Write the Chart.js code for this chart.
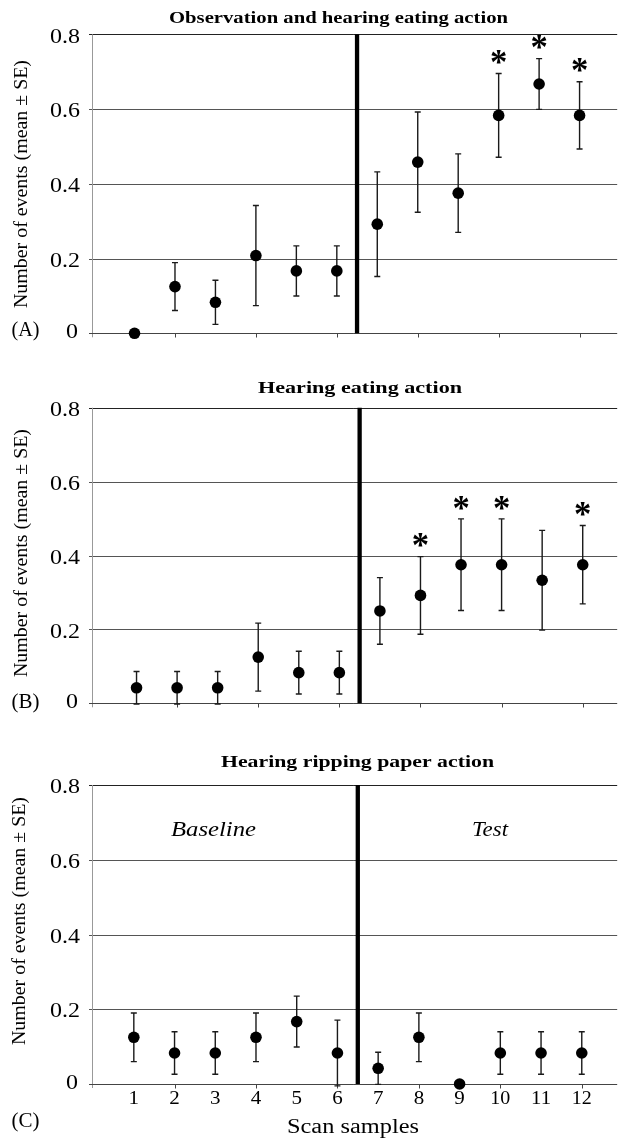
<!DOCTYPE html>
<html>
<head>
<meta charset="utf-8">
<script src="https://cdn.jsdelivr.net/npm/chart.js@4.4.1/dist/chart.umd.min.js"></script>
<style>
  html, body { margin: 0; padding: 0; background: #fff; }
  #wrap { position: relative; width: 623px; height: 1138px; overflow: hidden; }
  canvas { position: absolute; left: 0; }
</style>
</head>
<body>
<div id="wrap">
  <canvas id="cA" width="623" height="370" style="top:0px"></canvas>
  <canvas id="cB" width="623" height="370" style="top:370px"></canvas>
  <canvas id="cC" width="623" height="398" style="top:740px"></canvas>
</div>
<script>
// ---------------- DATA ----------------
const categories = [1, 2, 3, 4, 5, 6, 7, 8, 9, 10, 11, 12];
const xTickLabels = ['1', '2', '3', '4', '5', '6', '7', '8', '9', '10', '11', '12'];
const yTicks = [0, 0.2, 0.4, 0.6, 0.8];
const yTickLabels = ['0', '0.2', '0.4', '0.6', '0.8'];
const dividerAt = 6.5;

// (A) Observation and hearing eating action
const meanA = [0, 0.125, 0.083, 0.208, 0.167, 0.167, 0.292, 0.458, 0.375, 0.583, 0.667, 0.583];
const seA   = [0, 0.064, 0.059, 0.134, 0.067, 0.067, 0.140, 0.134, 0.105, 0.112, 0.068, 0.090];
const sigA  = [10, 11, 12];

// (B) Hearing eating action
const meanB = [0.042, 0.042, 0.042, 0.125, 0.083, 0.083, 0.250, 0.292, 0.375, 0.375, 0.333, 0.375];
const seB   = [0.044, 0.044, 0.044, 0.092, 0.058, 0.058, 0.090, 0.105, 0.124, 0.124, 0.135, 0.106];
const sigB  = [8, 9, 10, 12];

// (C) Hearing ripping paper action
const meanC = [0.125, 0.083, 0.083, 0.125, 0.167, 0.083, 0.042, 0.125, 0, 0.083, 0.083, 0.083];
const seC   = [0.065, 0.057, 0.057, 0.065, 0.068, 0.088, 0.043, 0.065, 0, 0.057, 0.057, 0.057];
const sigC  = [];

const titles = ['Observation and hearing eating action', 'Hearing eating action', 'Hearing ripping paper action'];
const letters = ['(A)', '(B)', '(C)'];
const yAxisTitle = 'Number of events (mean \u00B1 SE)';
const xAxisTitle = 'Scan samples';
const phaseLabels = ['Baseline', 'Test'];

// ---------------- HELPERS ----------------
const SERIF = "'Liberation Serif'";

function fitText(ctx, text, cx, baseY, font, width) {
  ctx.save();
  ctx.font = font;
  const w = ctx.measureText(text).width;
  const sx = width ? width / w : 1;
  ctx.translate(cx, baseY);
  ctx.scale(sx, 1);
  ctx.textAlign = 'center';
  ctx.textBaseline = 'alphabetic';
  ctx.fillStyle = '#000';
  ctx.fillText(text, 0, 0);
  ctx.restore();
}

function rightText(ctx, text, rx, baseY, font, sx) {
  ctx.save();
  ctx.font = font;
  ctx.translate(rx, baseY);
  ctx.scale(sx, 1);
  ctx.textAlign = 'right';
  ctx.textBaseline = 'alphabetic';
  ctx.fillStyle = '#000';
  ctx.fillText(text, 0, 0);
  ctx.restore();
}

function glyphBox(ctx, text, font, cx, cy, w, h) {
  ctx.save();
  ctx.font = font;
  ctx.textAlign = 'left';
  ctx.textBaseline = 'alphabetic';
  const m = ctx.measureText(text);
  const gw = m.actualBoundingBoxLeft + m.actualBoundingBoxRight;
  const gh = m.actualBoundingBoxAscent + m.actualBoundingBoxDescent;
  const sx = w / gw, sy = h / gh;
  ctx.translate(cx, cy);
  ctx.scale(sx, sy);
  const x0 = -(m.actualBoundingBoxRight - m.actualBoundingBoxLeft) / 2;
  const y0 = -(m.actualBoundingBoxDescent - m.actualBoundingBoxAscent) / 2;
  ctx.fillStyle = '#000';
  ctx.fillText(text, x0, y0);
  ctx.restore();
}

function makePanel(canvasId, idx, mean, se, sig, layout) {
  const points = categories.map((c, i) => ({ x: c, y: mean[i] }));
  const divider = [{ x: dividerAt, y: 0 }, { x: dividerAt, y: 0.8 }];

  const panelPlugin = {
    id: 'panel' + idx,
    beforeDatasetsDraw(chart) {
      const { ctx, chartArea: a, scales: { x, y } } = chart;
      ctx.save();
      yTicks.forEach(v => {
        if (v === 0) return;
        const py = Math.round(y.getPixelForValue(v)) + 0.5;
        ctx.strokeStyle = v === 0.8 ? '#222' : '#555';
        ctx.lineWidth = 1;
        ctx.beginPath();
        ctx.moveTo(a.left - 3, py);
        ctx.lineTo(a.right, py);
        ctx.stroke();
      });
      const lx = Math.round(a.left) + 0.5;
      ctx.strokeStyle = '#999';
      ctx.lineWidth = 1;
      ctx.beginPath();
      ctx.moveTo(lx, y.getPixelForValue(0.8));
      ctx.lineTo(lx, y.getPixelForValue(0) + 4);
      ctx.stroke();
      const zy = Math.round(y.getPixelForValue(0)) + 0.5;
      ctx.strokeStyle = '#444';
      ctx.beginPath();
      ctx.moveTo(a.left - 3, zy);
      ctx.lineTo(a.right, zy);
      ctx.stroke();
      categories.forEach(c => {
        if (c % 2 !== 0) return;
        const px = Math.round(x.getPixelForValue(c)) + 0.5;
        ctx.beginPath();
        ctx.moveTo(px, zy);
        ctx.lineTo(px, zy + 4);
        ctx.stroke();
      });
      ctx.strokeStyle = '#1a1a1a';
      ctx.lineWidth = 1.4;
      categories.forEach((c, i) => {
        if (!se[i]) return;
        const px = x.getPixelForValue(c);
        const top = y.getPixelForValue(mean[i] + se[i]);
        const bot = y.getPixelForValue(mean[i] - se[i]);
        ctx.beginPath();
        ctx.moveTo(px, top); ctx.lineTo(px, bot);
        ctx.moveTo(px - 3, top); ctx.lineTo(px + 3, top);
        ctx.moveTo(px - 3, bot); ctx.lineTo(px + 3, bot);
        ctx.stroke();
      });
      ctx.restore();
    },
    afterDatasetsDraw(chart) {
      const { ctx, scales: { x, y } } = chart;
      sig.forEach(c => {
        const i = categories.indexOf(c);
        const top = y.getPixelForValue(mean[i] + se[i]);
        glyphBox(ctx, '*', 'bold 30px ' + SERIF, x.getPixelForValue(c), top - 14.5, 15, 14);
      });
      yTicks.forEach((v, k) => {
        const py = y.getPixelForValue(v);
        if (v === 0) rightText(ctx, yTickLabels[k], 78, py + 4.5, '20px ' + SERIF, 1.2);
        else rightText(ctx, yTickLabels[k], 80, py + 8.2, '20px ' + SERIF, 1.2);
      });
      fitText(ctx, titles[idx], layout.titleX, layout.titleY, 'bold 16.5px ' + SERIF, layout.titleW);
      fitText(ctx, letters[idx], 25.5, layout.letterY, '20px ' + SERIF, 28);
      ctx.save();
      ctx.translate(layout.yTitleX, layout.yTitleY);
      ctx.rotate(-Math.PI / 2);
      ctx.font = '18px ' + SERIF;
      const w = ctx.measureText(yAxisTitle).width;
      ctx.scale(248 / w, 1);
      ctx.textAlign = 'center';
      ctx.textBaseline = 'middle';
      ctx.fillStyle = '#000';
      ctx.fillText(yAxisTitle, 0, 0);
      ctx.restore();

      if (layout.showX) {
        const zy = y.getPixelForValue(0);
        categories.forEach((c, i) => {
          const w2 = xTickLabels[i].length > 1 ? 20 : 10.5;
          fitText(ctx, xTickLabels[i], x.getPixelForValue(c), zy + 20, '19px ' + SERIF, w2);
        });
        fitText(ctx, xAxisTitle, 353, layout.xTitleY, '20px ' + SERIF, 132);
        fitText(ctx, phaseLabels[0], 213.5, 96, 'italic 21px ' + SERIF, 85);
        fitText(ctx, phaseLabels[1], 490, 96, 'italic 21px ' + SERIF, 36);
      }
    }
  };

  return new Chart(document.getElementById(canvasId), {
    type: 'scatter',
    data: {
      datasets: [
        { data: points, pointRadius: 5.8, pointHoverRadius: 5.8, backgroundColor: '#000',
          borderColor: '#000', borderWidth: 0, clip: false },
        { data: divider, showLine: true, borderColor: '#000', borderWidth: 4.3, pointRadius: 0, clip: false }
      ]
    },
    options: {
      responsive: false,
      animation: false,
      events: [],
      layout: { padding: { left: 92, right: 0, top: layout.padTop, bottom: layout.padBottom } },
      plugins: { legend: { display: false }, tooltip: { enabled: false }, title: { display: false } },
      scales: {
        x: { type: 'linear', display: false, min: layout.xMin, max: layout.xMax },
        y: { type: 'linear', display: false, min: 0, max: 0.8 }
      }
    },
    plugins: [panelPlugin]
  });
}

makePanel('cA', 0, meanA, seA, sigA, {
  padTop: 34.3, padBottom: 36.7, xMin: -0.051, xMax: 12.93,
  titleX: 338.5, titleY: 22.5, titleW: 339, letterY: 336, yTitleX: 22, yTitleY: 184, showX: false
});
makePanel('cB', 1, meanB, seB, sigB, {
  padTop: 37.7, padBottom: 36.7, xMin: -0.098, xMax: 12.85,
  titleX: 360, titleY: 22.7, titleW: 204, letterY: 338, yTitleX: 22, yTitleY: 183, showX: false
});
makePanel('cC', 2, meanC, seC, sigC, {
  padTop: 45, padBottom: 54, xMin: -0.027, xMax: 12.87,
  titleX: 357.5, titleY: 27.3, titleW: 273, letterY: 387, yTitleX: 20, yTitleY: 181, showX: true, xTitleY: 392.7
});
</script>
</body>
</html>
